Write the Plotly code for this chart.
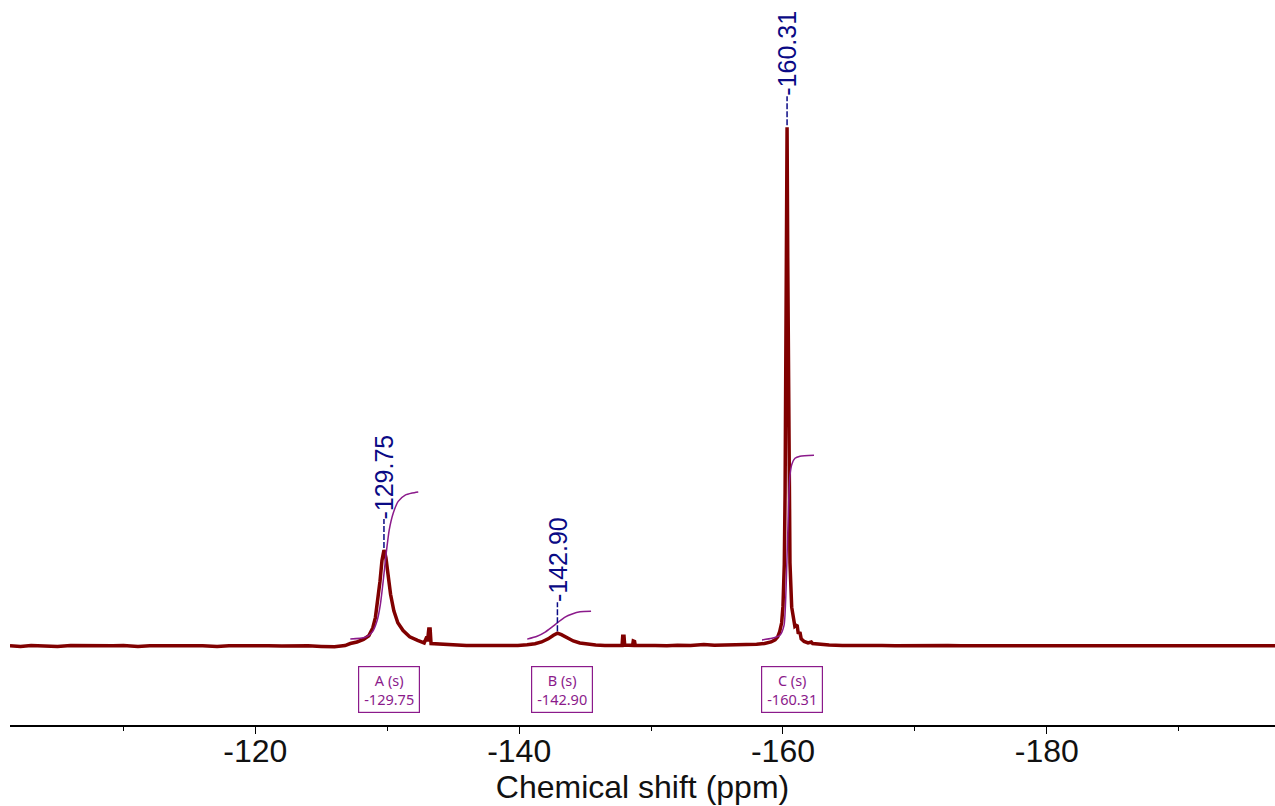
import plotly.graph_objects as go

# ---------------- data ----------------
spec_ppm = [
    -101.4, -102.2, -103.0, -104.1, -105.0, -106.0, -107.1, -108.0, -109.2, -110.0,
    -111.1, -112.0, -113.0, -114.1, -115.0, -116.0, -117.1, -118.0, -119.0, -120.1,
    -121.0, -122.0, -123.1, -124.0, -125.0, -126.0, -126.8,
    -127.2, -127.7, -128.2, -128.6, -128.9, -129.1, -129.3, -129.45, -129.6, -129.7,
    -129.75, -129.8, -129.9, -130.05, -130.25, -130.5, -130.8, -131.2, -131.7, -132.3,
    -132.8, -133.0, -133.05, -133.15, -133.25, -133.32, -133.8, -134.5, -135.3, -136.0,
    -137.0, -138.0, -139.0, -139.9, -140.6, -141.2, -141.7, -142.2, -142.6, -142.9,
    -143.2, -143.6, -144.1, -144.6, -145.2, -145.8, -146.5, -147.2, -147.8, -147.85,
    -147.95, -148.0, -148.6, -148.65, -148.75, -148.8, -149.5, -150.3, -151.2, -152.0,
    -153.0, -154.0, -154.8, -155.6, -156.5, -157.3, -158.0, -158.6, -159.1, -159.4,
    -159.6, -159.75, -159.9, -160.0, -160.1, -160.16, -160.21, -160.26, -160.31, -160.36,
    -160.41, -160.46, -160.53, -160.66, -160.8, -160.9, -161.0, -161.08, -161.15, -161.3,
    -161.38, -161.6, -161.9, -162.15, -162.25, -162.8, -163.5,
    -164.5, -165.5, -166.5, -167.5, -168.5, -169.5, -170.5, -171.5, -172.5, -173.5,
    -174.5, -175.5, -176.5, -177.5, -178.5, -179.5, -180.5, -181.5, -182.5, -183.5,
    -184.5, -185.5, -186.5, -187.5, -188.5, -189.5, -190.5, -191.5, -192.5, -193.5,
    -194.5, -195.5, -196.5, -197.3,
]
spec_int = [
    0.05, -0.05, 0.1, 0.0, -0.05, 0.1, 0.05, -0.05, 0.05, 0.1,
    -0.05, 0.05, 0.0, 0.1, 0.05, 0.05, -0.05, 0.05, 0.1, 0.05,
    0.05, 0.0, 0.1, 0.05, -0.05, -0.1, 0.1,
    0.5, 0.8, 1.3, 2.0, 3.5, 5.5, 9.0, 12.5, 16.5, 18.2,
    18.5, 18.2, 17.0, 14.0, 10.0, 6.8, 4.5, 3.0, 1.8, 1.1,
    0.6, 1.8, 0.9, 3.3, 3.3, 0.5, 0.4, 0.3, 0.2, 0.1,
    0.1, 0.05, 0.15, 0.1, 0.25, 0.45, 0.8, 1.4, 2.1, 2.5,
    2.2, 1.6, 1.0, 0.6, 0.35, 0.2, 0.1, 0.1, 0.1, 1.9,
    1.9, 0.2, 0.15, 1.0, 0.9, 0.15, 0.05, 0.1, 0.05, 0.15,
    0.1, 0.3, 0.15, 0.2, 0.25, 0.2, 0.35, 0.5, 0.8, 1.2,
    1.8, 2.8, 4.5, 7.7, 15.8, 29.7, 48.0, 75.0, 100.0, 75.0,
    48.0, 30.0, 16.0, 7.5, 4.6, 3.8, 4.0, 3.9, 2.6, 2.5,
    1.4, 0.9, 0.6, 0.8, 0.5, 0.3, 0.2,
    0.1, 0.15, 0.05, 0.1, 0.05, 0.1, 0.0, 0.05, 0.1, 0.05,
    0.05, 0.1, 0.05, 0.05, 0.0, 0.1, 0.05, 0.05, 0.1, 0.05,
    0.0, 0.05, 0.1, 0.05, 0.05, 0.1, 0.05, 0.05, 0.0, 0.05,
    0.1, 0.05, 0.05, 0.05,
]

integ_a_ppm = [-127.20, -128.33, -128.86, -129.24, -129.47, -129.70, -129.92, -130.15,
               -130.45, -130.83, -131.36, -131.89, -132.35]
integ_a_val = [1.35, 1.7, 2.7, 5.0, 7.9, 12.7, 17.9, 22.4, 25.6, 27.9, 29.1, 29.5, 29.7]

integ_b_ppm = [-140.61, -141.36, -141.97, -142.50, -142.95, -143.48, -144.02, -144.62, -145.45]
integ_b_val = [1.35, 1.9, 2.7, 3.7, 4.6, 5.6, 6.2, 6.6, 6.7]

integ_c_ppm = [-158.41, -159.17, -159.77, -160.08, -160.23, -160.30, -160.38, -160.45,
               -160.53, -160.68, -160.91, -161.29, -162.35]
integ_c_val = [1.2, 1.5, 2.1, 4.0, 10.8, 16.6, 23.3, 29.1, 32.9, 35.1, 36.2, 36.6, 36.8]

peak_ppm = [-129.75, -142.90, -160.31]
peak_height = [18.5, 2.5, 100.0]
peak_labels = ["-129.75", "-142.90", "-160.31"]
multiplet_names = ["A (s)", "B (s)", "C (s)"]
multiplet_shifts = ["-129.75", "-142.90", "-160.31"]

tick_vals = [-120, -140, -160, -180]
tick_text = ["-120", "-140", "-160", "-180"]
minor_tick_vals = [-110, -130, -150, -170, -190]

# ---------------- style ----------------
SPEC_COLOR = "#800000"
INT_COLOR = "#8B1A8B"
LABEL_COLOR = "#0A0A85"
X_RANGE = [-101.4, -197.3]
Y_RANGE = [-15.2, 124.5]

fig = go.Figure()

fig.add_trace(go.Scatter(x=spec_ppm, y=spec_int, mode="lines",
                         line=dict(color=SPEC_COLOR, width=3.5), hoverinfo="skip",
                         showlegend=False))
for px, pv in [(integ_a_ppm, integ_a_val), (integ_b_ppm, integ_b_val), (integ_c_ppm, integ_c_val)]:
    fig.add_trace(go.Scatter(x=px, y=pv, mode="lines", line=dict(color=INT_COLOR, width=1.5,
                             shape="spline", smoothing=0.6), hoverinfo="skip", showlegend=False))

shapes = []
annotations = []
for p, h, lab, nm, sh in zip(peak_ppm, peak_height, peak_labels, multiplet_names, multiplet_shifts):
    shapes.append(dict(type="line", xref="x", yref="y", x0=p, x1=p,
                       ysizemode="pixel", yanchor=h, y0=2, y1=31,
                       line=dict(color=LABEL_COLOR, width=1.5, dash="6px,2px")))
    annotations.append(dict(x=p, y=h, xref="x", yref="y", text=lab, showarrow=False,
                            textangle=-90, xanchor="center", yanchor="bottom", yshift=29,
                            font=dict(family="Liberation Sans, Arial", size=25, color=LABEL_COLOR)))
    annotations.append(dict(x=p, y=-8.4, xref="x", yref="y", text=f"{nm}<br>{sh}",
                            showarrow=False, xanchor="center", yanchor="middle", xshift=5,
                            width=56, height=41, borderpad=2, borderwidth=1.2,
                            bordercolor=INT_COLOR, bgcolor="white", align="center",
                            font=dict(family="Noto Sans", size=14.5, color=INT_COLOR)))

fig.update_layout(
    width=1275, height=806,
    margin=dict(l=10, r=0, t=0, b=81),
    paper_bgcolor="white", plot_bgcolor="white",
    shapes=shapes, annotations=annotations,
    xaxis=dict(range=X_RANGE, showgrid=False, zeroline=False,
               showline=True, linecolor="black", linewidth=1.5,
               tickmode="array", tickvals=tick_vals, ticktext=tick_text,
               ticks="outside", ticklen=7, tickwidth=1.2, tickcolor="black",
               ticklabelstandoff=-10,
               minor=dict(tickmode="array", tickvals=minor_tick_vals,
                          ticks="outside", ticklen=4, tickwidth=1, tickcolor="black"),
               tickfont=dict(family="Liberation Sans, Arial", size=32, color="#111111"),
               title=dict(text="Chemical shift (ppm)", standoff=6,
                          font=dict(family="Liberation Sans, Arial", size=32, color="#111111"))),
    yaxis=dict(range=Y_RANGE, visible=False, showgrid=False, zeroline=False),
)

fig.write_html("out.html")
